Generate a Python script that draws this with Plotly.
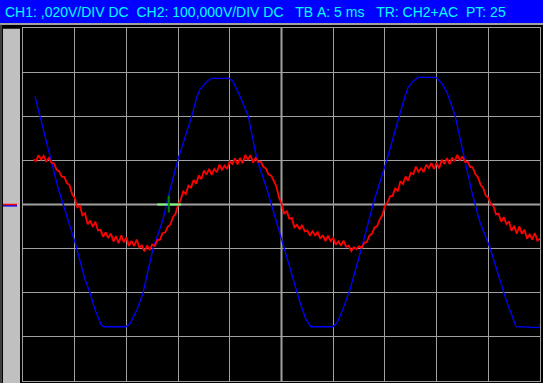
import plotly.graph_objects as go

# ---- data (time in ms, 5 ms/div) ----
# CH2 (blue), volts (100 V/div)
ch2_t = [1.16, 3.38, 5.03, 6.00, 6.48, 6.96, 7.45, 7.54, 7.83, 9.96, 10.35, 10.73,
         11.03, 11.61, 12.57, 13.54, 14.22, 14.99, 16.34, 16.83, 17.12, 17.60, 17.89,
         18.28, 19.92, 20.31, 20.60, 20.99, 21.76, 22.63, 23.60, 25.05, 26.79, 27.37,
         27.85, 29.98, 30.37, 30.75, 31.62, 32.79, 33.85, 35.20, 36.36, 36.85, 37.23,
         37.71, 38.20, 39.94, 40.52, 41.01, 41.78, 42.55, 43.42, 44.20, 45.16, 46.71,
         47.29, 47.68, 49.90, 50.0]
ch2_v = [245, 38.5, -86, -170, -200, -238, -266, -272, -277, -277, -270, -252,
         -238, -200, -100, -34, 34, 102, 202, 245, 261, 274, 281,
         286, 286, 279, 265, 245, 202, 102, 34, -84, -222, -261,
         -277, -277, -268, -249, -193, -95, 0, 102, 202, 238, 265,
         279, 288, 288, 274, 254, 202, 118, 27, -41, -98, -215,
         -254, -277, -279, -272]

# CH1 (red), millivolts (20 mV/div), one sample every 0.25 ms from 1.0 ms
ch1_t0, ch1_dt = 1.0, 0.25
ch1_mv = [
    20.4, 19.7, 22.3, 20.4, 22.0, 19.4, 21.1, 18.9, 18.6, 15.8,
    15.0, 12.6, 12.4, 9.7, 8.8, 4.7, 2.9, -1.3, -0.5, -4.9,
    -4.0, -9.0, -7.3, -10.2, -7.8, -11.8, -11.5, -14.7, -12.6, -15.2,
    -13.1, -16.8, -14.3, -17.6, -14.0, -17.1, -14.9, -18.8, -16.5, -18.8,
    -15.9, -19.5, -18.6, -21.3, -18.6, -20.6, -18.1, -18.8, -16.1, -15.9,
    -13.0, -12.6, -10.1, -9.1, -5.8, -4.2, 0.0, 2.1, 5.9, 4.7,
    8.5, 7.7, 11.1, 9.4, 13.2, 11.4, 15.4, 13.5, 16.2, 13.4,
    16.1, 14.6, 18.1, 15.8, 17.6, 16.1, 19.6, 18.4, 20.9, 18.2,
    21.1, 18.7, 22.5, 20.2, 22.3, 19.0, 21.1, 19.3, 19.4, 17.1,
    16.3, 13.6, 13.2, 10.3, 8.2, 3.3, 0.5, -4.3, -2.9, -6.4,
    -6.1, -10.3, -9.2, -11.3, -9.3, -12.2, -11.8, -14.1, -12.1, -14.0,
    -12.6, -15.5, -13.9, -16.6, -14.1, -16.6, -15.2, -18.2, -16.7, -18.6,
    -16.4, -19.2, -18.7, -21.1, -19.4, -20.2, -18.9, -19.7, -17.3, -17.0,
    -14.1, -13.3, -10.4, -9.8, -6.8, -4.9, -0.6, 0.9, 3.7, 3.9,
    7.5, 6.0, 10.6, 9.3, 12.7, 10.8, 14.4, 13.7, 17.2, 14.8,
    16.4, 14.8, 18.0, 16.5, 18.8, 16.1, 18.9, 16.4, 20.3, 18.3,
    21.0, 18.3, 21.2, 19.6, 22.5, 20.0, 21.8, 19.3, 19.4, 17.0,
    16.8, 13.7, 12.4, 8.9, 7.6, 4.1, 3.2, 0.0, -0.7, -4.5,
    -4.2, -7.8, -5.7, -8.9, -7.7, -11.9, -9.7, -13.2, -9.9, -13.3,
    -11.4, -15.5, -13.4, -15.9, -12.9, -16.4, -15.5]
ch1_t = [ch1_t0 + i * ch1_dt for i in range(len(ch1_mv))]

header = ("CH1: ,020V/DIV DC  CH2: 100,000V/DIV DC   TB A: 5 ms   "
          "TR: CH2+AC  PT: 25")
trig_t, trig_v = 14.1, 0.0

GRID = "#A0A0A0"

fig = go.Figure()
fig.add_trace(go.Scatter(x=ch2_t, y=ch2_v, mode="lines",
                         line=dict(color="#0000FF", width=1.3), yaxis="y",
                         hoverinfo="skip"))
fig.add_trace(go.Scatter(x=ch1_t, y=ch1_mv, mode="lines",
                         line=dict(color="#FF0000", width=1.8), yaxis="y2",
                         hoverinfo="skip"))

shapes = []
# title bar
shapes.append(dict(type="rect", xref="paper", yref="paper", x0=-0.06, x1=1.01,
                   y0=1.0142, y1=1.09, fillcolor="#0000FF", line=dict(width=0),
                   layer="below"))
shapes.append(dict(type="line", xref="paper", yref="paper", x0=-0.06, x1=1.01,
                   y0=1.0113, y1=1.0113, line=dict(color=GRID, width=2)))
# left panel
shapes.append(dict(type="rect", xref="paper", yref="paper", x0=-0.0387, x1=-0.0058,
                   y0=-0.01, y1=0.998, fillcolor="#C0C0C0", line=dict(width=0)))
shapes.append(dict(type="line", xref="paper", yref="paper", x0=-0.0425, x1=-0.0425,
                   y0=-0.01, y1=1.0113, line=dict(color="#808080", width=1)))
# channel ground markers
shapes.append(dict(type="line", xref="paper", yref="y", x0=-0.0387, x1=-0.0116,
                   y0=-3, y1=-3, line=dict(color="#0000FF", width=1.5)))
shapes.append(dict(type="line", xref="paper", yref="y", x0=-0.0387, x1=-0.0116,
                   y0=0, y1=0, line=dict(color="#FF0000", width=1.5)))
# thicker center lines
shapes.append(dict(type="line", xref="x", yref="paper", x0=25, x1=25, y0=0, y1=1,
                   line=dict(color=GRID, width=2), layer="below"))
shapes.append(dict(type="line", xref="paper", yref="y", x0=0, x1=1, y0=0, y1=0,
                   line=dict(color=GRID, width=2), layer="below"))
# trigger crosshair
shapes.append(dict(type="line", xref="x", yref="y", x0=trig_t - 1.1, x1=trig_t + 1.2,
                   y0=trig_v, y1=trig_v, line=dict(color="#80FF80", width=2)))
shapes.append(dict(type="line", xref="x", yref="y", x0=trig_t, x1=trig_t,
                   y0=trig_v - 18, y1=trig_v + 20, line=dict(color="#008000", width=2)))

fig.update_layout(
    width=543, height=383,
    margin=dict(l=23, r=3, t=28, b=2),
    paper_bgcolor="#000000", plot_bgcolor="#000000",
    showlegend=False,
    xaxis=dict(range=[0, 50], dtick=5, showticklabels=False, showgrid=True,
               gridcolor=GRID, gridwidth=1, zeroline=False, showline=True,
               linecolor=GRID, linewidth=1, mirror=True, fixedrange=True),
    yaxis=dict(range=[-400, 400], dtick=100, showticklabels=False, showgrid=True,
               gridcolor=GRID, gridwidth=1, zeroline=False, showline=True,
               linecolor=GRID, linewidth=1, mirror=True, fixedrange=True),
    yaxis2=dict(range=[-80, 80], overlaying="y", showticklabels=False,
                showgrid=False, zeroline=False, fixedrange=True),
    shapes=shapes,
    annotations=[dict(text=header.replace(" ", "\u00a0"), xref="paper", yref="paper",
                      x=-0.0387, y=1.0467, xanchor="left", yanchor="middle",
                      showarrow=False,
                      font=dict(family="Liberation Sans, Arial", size=14,
                                color="#00FFFF"))],
)

fig.write_html("out.html", config={"displayModeBar": False},
               post_script="document.body.style.margin='0';"
                           "document.body.style.overflow='hidden';")
